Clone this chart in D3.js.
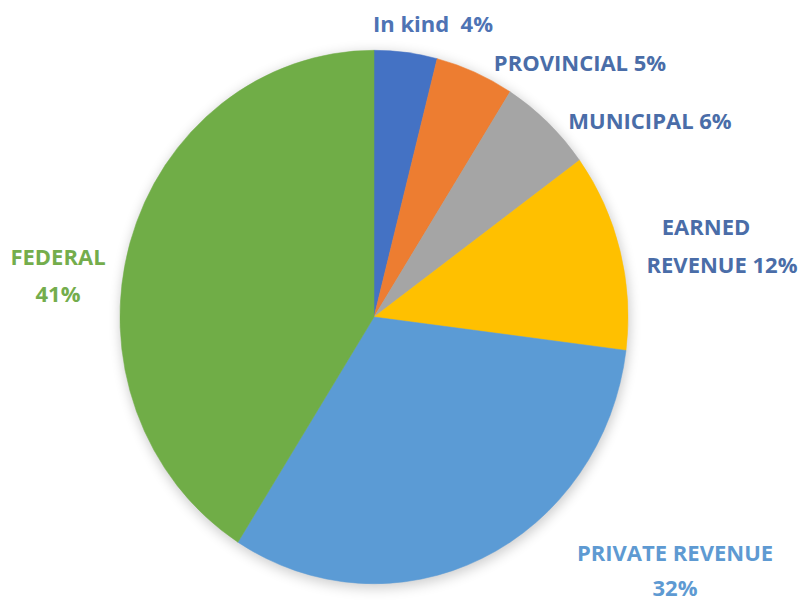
<!DOCTYPE html>
<html>
<head>
<meta charset="utf-8">
<script src="https://cdn.jsdelivr.net/npm/d3@7/dist/d3.min.js"></script>
<style>
  html, body { margin: 0; padding: 0; background: #ffffff; }
  svg { display: block; }
  .lbl { font-family: "Open Sans", sans-serif; font-weight: 700; font-size: 22px; white-space: pre; }
</style>
</head>
<body>
<svg id="chart" width="807" height="602"></svg>
<script>
// Funding sources, clockwise from 12 o'clock
const categories = ["In kind", "PROVINCIAL", "MUNICIPAL", "EARNED REVENUE", "PRIVATE REVENUE", "FEDERAL"];
const shares = [4, 5, 6, 12, 32, 41];
const sliceColors = ["#4472C4", "#ED7D31", "#A5A5A5", "#FFC000", "#5B9BD5", "#70AD47"];
const labelColors = ["#4E73B4", "#4A6DA8", "#4A6DA8", "#4A6DA8", "#5E9AD2", "#74AD4C"];
// where each label wraps onto a second line ("" = single line)
const labelBreaks = ["", "", "", "EARNED", "PRIVATE REVENUE", "FEDERAL"];

const svg = d3.select("#chart");
const cx = 374, cy = 317, r = 254, yStretch = 1.05;

const data = categories.map((c, i) => ({ name: c, value: shares[i], color: sliceColors[i], labelColor: labelColors[i] }));

const pie = d3.pie().sort(null).value(d => d.value).startAngle(0).endAngle(2 * Math.PI);
const arc = d3.arc().innerRadius(0).outerRadius(r);

const defs = svg.append("defs");
const f = defs.append("filter").attr("id", "soft").attr("x", "-20%").attr("y", "-20%").attr("width", "140%").attr("height", "140%");
f.append("feGaussianBlur").attr("stdDeviation", 6);

const g = svg.append("g").attr("transform", `translate(${cx},${cy}) scale(1,${yStretch})`);

// soft shadow under the pie
g.append("circle")
  .attr("cx", 1).attr("cy", 3).attr("r", r + 1)
  .attr("fill", "#000").attr("opacity", 0.2)
  .attr("filter", "url(#soft)");

g.selectAll("path.slice")
  .data(pie(data))
  .join("path")
  .attr("class", "slice")
  .attr("d", arc)
  .attr("fill", d => d.data.color)
  .attr("stroke", d => d.data.color)
  .attr("stroke-width", 0.5);

// Label text built from the same values as the slices
function labelLines(d, i) {
  const full = `${d.name}${d.name === "In kind" ? "  " : " "}${d.value}%`;
  const br = labelBreaks[i];
  if (!br) return [full];
  return [br, full.slice(br.length).trim()];
}

// label layout: anchor x per line, first baseline, line gap
const labelLayout = [
  { x: [433], y: 32, gap: 0 },
  { x: [580], y: 71, gap: 0 },
  { x: [650], y: 129, gap: 0 },
  { x: [706, 722], y: 235, gap: 38 },
  { x: [675, 675], y: 561, gap: 35 },
  { x: [58, 58], y: 265, gap: 37 }
];

data.forEach((d, i) => {
  const L = labelLayout[i];
  const t = svg.append("text")
    .attr("class", "lbl")
    .attr("fill", d.labelColor)
    .attr("text-anchor", "middle");
  labelLines(d, i).forEach((line, k) => {
    t.append("tspan").attr("x", L.x[k]).attr("y", L.y + k * L.gap).text(line);
  });
});
</script>
</body>
</html>
